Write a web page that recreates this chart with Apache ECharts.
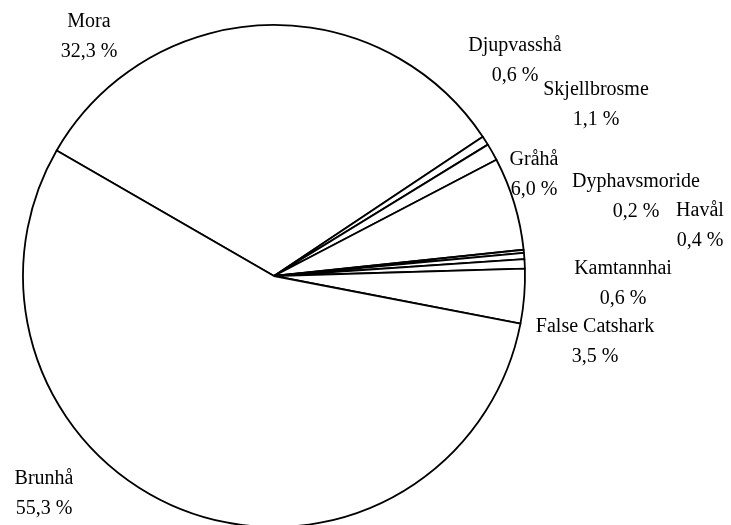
<!DOCTYPE html>
<html>
<head>
<meta charset="utf-8">
<script src="https://cdn.jsdelivr.net/npm/echarts@6/dist/echarts.min.js"></script>
<style>html,body{margin:0;padding:0;background:#fff}#c{width:731px;height:525px}</style>
</head>
<body>
<div id="c"></div>
<script>
var categories = ['Mora', 'Djupvasshå', 'Skjellbrosme', 'Gråhå', 'Dyphavsmoride', 'Havål', 'Kamtannhai', 'False Catshark', 'Brunhå'];
var values = [32.3, 0.6, 1.1, 6.0, 0.2, 0.4, 0.6, 3.5, 55.3];
// label anchor positions (layout only)
var labelX = [89, 515, 596, 534, 636, 700, 623, 595, 44];
var labelY = [37, 61, 105, 175, 197, 226, 284, 342, 494];

var chart = echarts.init(document.getElementById('c'), null, {renderer: 'canvas'});
chart.setOption({
  backgroundColor: '#ffffff',
  animation: false,
  series: [{
    type: 'pie',
    center: [274, 276],
    radius: [0, 251],
    startAngle: 150,
    clockwise: true,
    avoidLabelOverlap: false,
    data: categories.map(function (n, i) { return {name: n, value: values[i]}; }),
    itemStyle: {color: '#ffffff', borderColor: '#000000', borderWidth: 1.8},
    emphasis: {disabled: true},
    label: {
      show: true,
      position: 'outside',
      color: '#000',
      fontFamily: 'Liberation Serif, Times New Roman, serif',
      fontSize: 20,
      lineHeight: 30,
      align: 'center',
      formatter: function (p) { return p.name + '\n' + p.value.toFixed(1).replace('.', ',') + ' %'; }
    },
    labelLine: {show: false},
    labelLayout: function (p) {
      return {x: labelX[p.dataIndex], y: labelY[p.dataIndex], align: 'center', verticalAlign: 'middle'};
    }
  }]
});
</script>
</body>
</html>
